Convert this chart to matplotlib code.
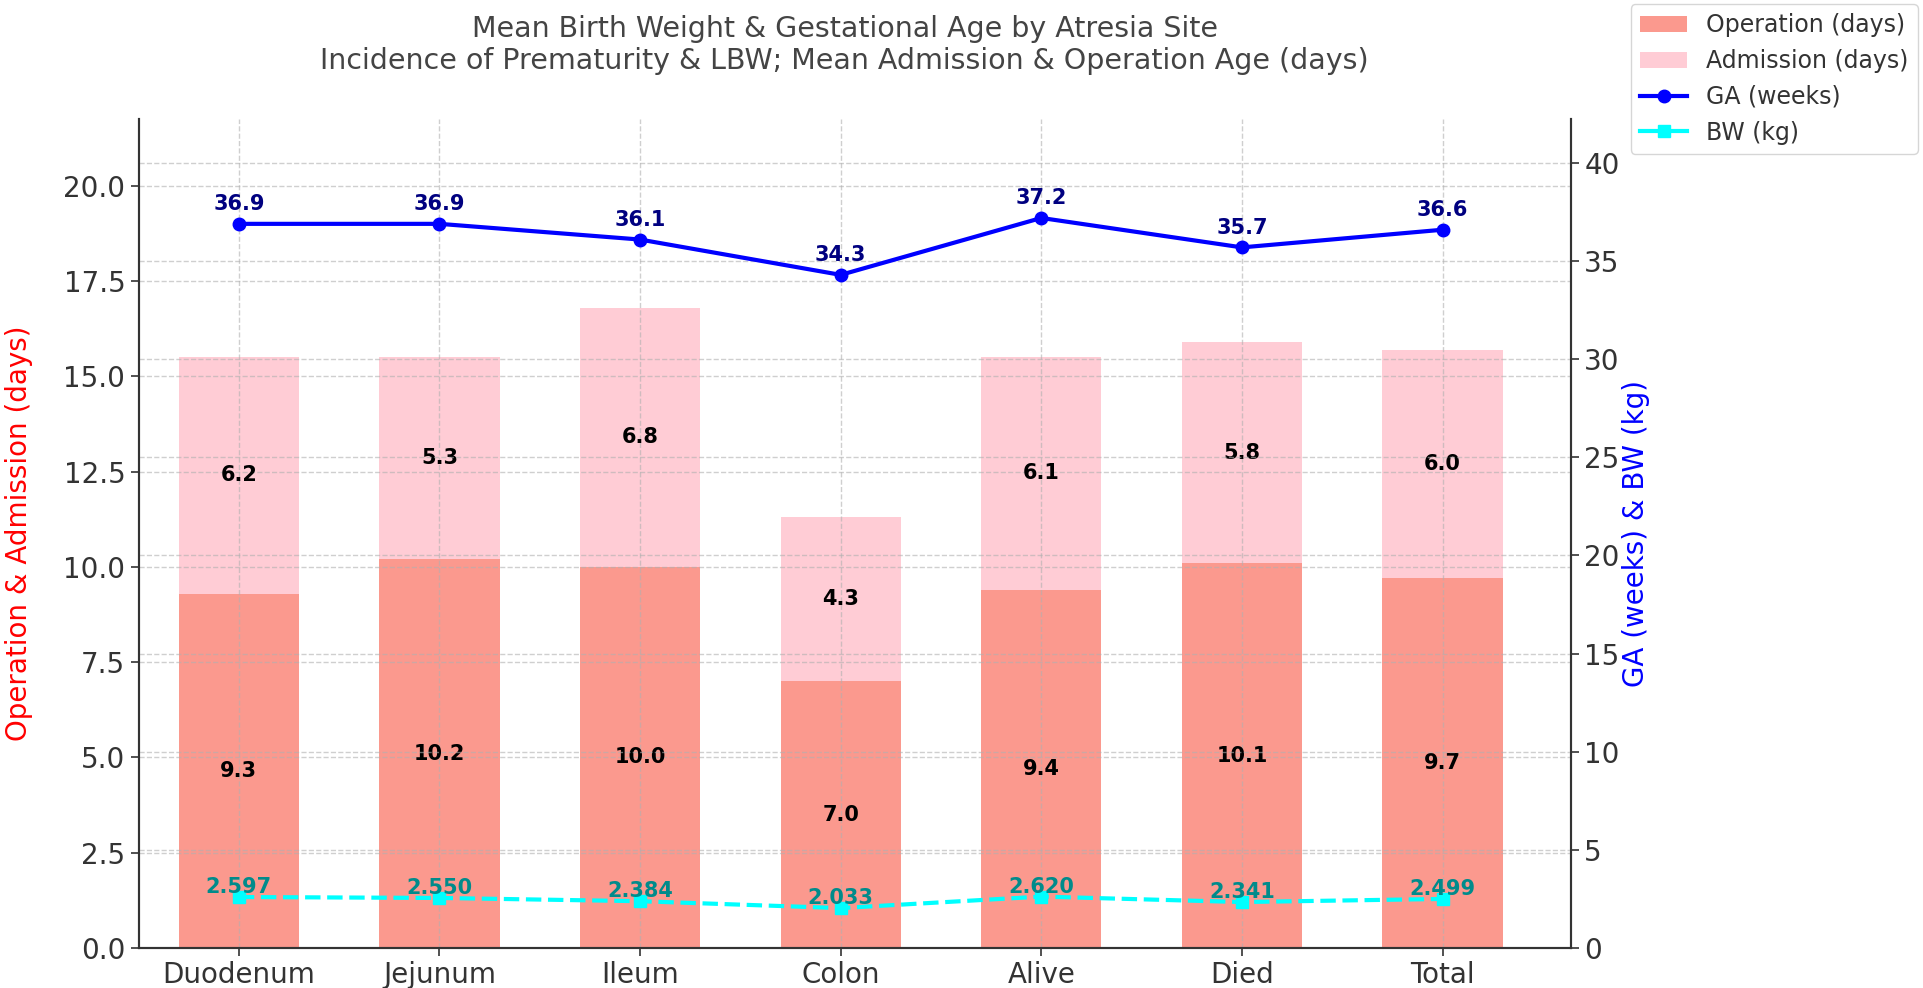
import matplotlib
matplotlib.use("Agg")
import matplotlib.pyplot as plt
import numpy as np
from matplotlib.patches import Patch
from matplotlib.lines import Line2D

categories = ["Duodenum", "Jejunum", "Ileum", "Colon", "Alive", "Died", "Total"]
operation_days = [9.3, 10.2, 10.0, 7.0, 9.4, 10.1, 9.7]
admission_days = [6.2, 5.3, 6.8, 4.3, 6.1, 5.8, 6.0]
ga_weeks = [36.9, 36.9, 36.1, 34.3, 37.2, 35.7, 36.6]
bw_kg = [2.597, 2.550, 2.384, 2.033, 2.620, 2.341, 2.499]

TXT = "#333333"
fig = plt.figure(figsize=(19.24, 9.88), dpi=100)
ax1 = fig.add_axes([0.072, 0.0405, 0.7445, 0.839])
x = np.arange(len(categories))
w = 0.6

ax1.bar(x, operation_days, w, color="salmon", alpha=0.8, label="Operation (days)")
ax1.bar(x, admission_days, w, bottom=operation_days, color="pink", alpha=0.8,
        label="Admission (days)")
for xi, op, ad in zip(x, operation_days, admission_days):
    ax1.text(xi, op / 2, f"{op:.1f}", ha="center", va="center", fontsize=15,
             fontweight="bold", color="black")
    ax1.text(xi, op + ad / 2, f"{ad:.1f}", ha="center", va="center", fontsize=15,
             fontweight="bold", color="black")

ax1.set_xlim(-0.5, 6.64)
ax1.set_ylim(0, 21.75)
ax1.set_yticks(np.arange(0, 20.01, 2.5))
ax1.set_xticks(x)
ax1.set_xticklabels(categories)
ax1.set_ylabel("Operation & Admission (days)", color="red", fontsize=20, labelpad=22)
ax1.grid(True, linestyle="--", color="#b0b0b0", alpha=0.6, linewidth=1)

ax2 = ax1.twinx()
ax2.plot(x, ga_weeks, color="blue", marker="o", markersize=9, linewidth=3,
         label="GA (weeks)")
ax2.plot(x, bw_kg, color="cyan", marker="s", markersize=8, linewidth=3,
         linestyle="--", label="BW (kg)")
for xi, g in zip(x, ga_weeks):
    ax2.text(xi, g + 0.5, f"{g:.1f}", ha="center", va="bottom", fontsize=15,
             fontweight="bold", color="navy")
for xi, b in zip(x, bw_kg):
    ax2.text(xi, b + 0.0, f"{b:.3f}", ha="center", va="bottom", fontsize=15,
             fontweight="bold", color="darkcyan")
ax2.set_ylim(0, 42.24)
ax2.set_yticks(np.arange(0, 40.01, 5))
ax2.set_ylabel("GA (weeks) & BW (kg)", color="blue", fontsize=20, labelpad=2)
ax2.grid(True, linestyle="--", color="#b0b0b0", alpha=0.6, linewidth=1)

for ax in (ax1, ax2):
    ax.spines["top"].set_visible(False)
    for s in ("left", "right", "bottom"):
        ax.spines[s].set_color(TXT)
        ax.spines[s].set_linewidth(1.5)
    ax.tick_params(labelsize=20, colors=TXT, length=6, width=1.2)

ax1.set_title("Mean Birth Weight & Gestational Age by Atresia Site\n"
              "Incidence of Prematurity & LBW; Mean Admission & Operation Age (days)",
              fontsize=20.5, color="#444444", pad=12, x=0.493, y=1.04)

handles = [Patch(facecolor="salmon", alpha=0.8, label="Operation (days)"),
           Patch(facecolor="pink", alpha=0.8, label="Admission (days)"),
           Line2D([0], [0], color="blue", marker="o", markersize=9, linewidth=3,
                  label="GA (weeks)"),
           Line2D([0], [0], color="cyan", marker="s", markersize=8, linewidth=3,
                  label="BW (kg)")]
leg = fig.legend(handles=handles, loc="upper right", bbox_to_anchor=(1.003, 1.008),
                 fontsize=17, frameon=True, labelcolor=TXT)
leg.get_frame().set_edgecolor("#cccccc")

fig.savefig("out.png", dpi=100)
